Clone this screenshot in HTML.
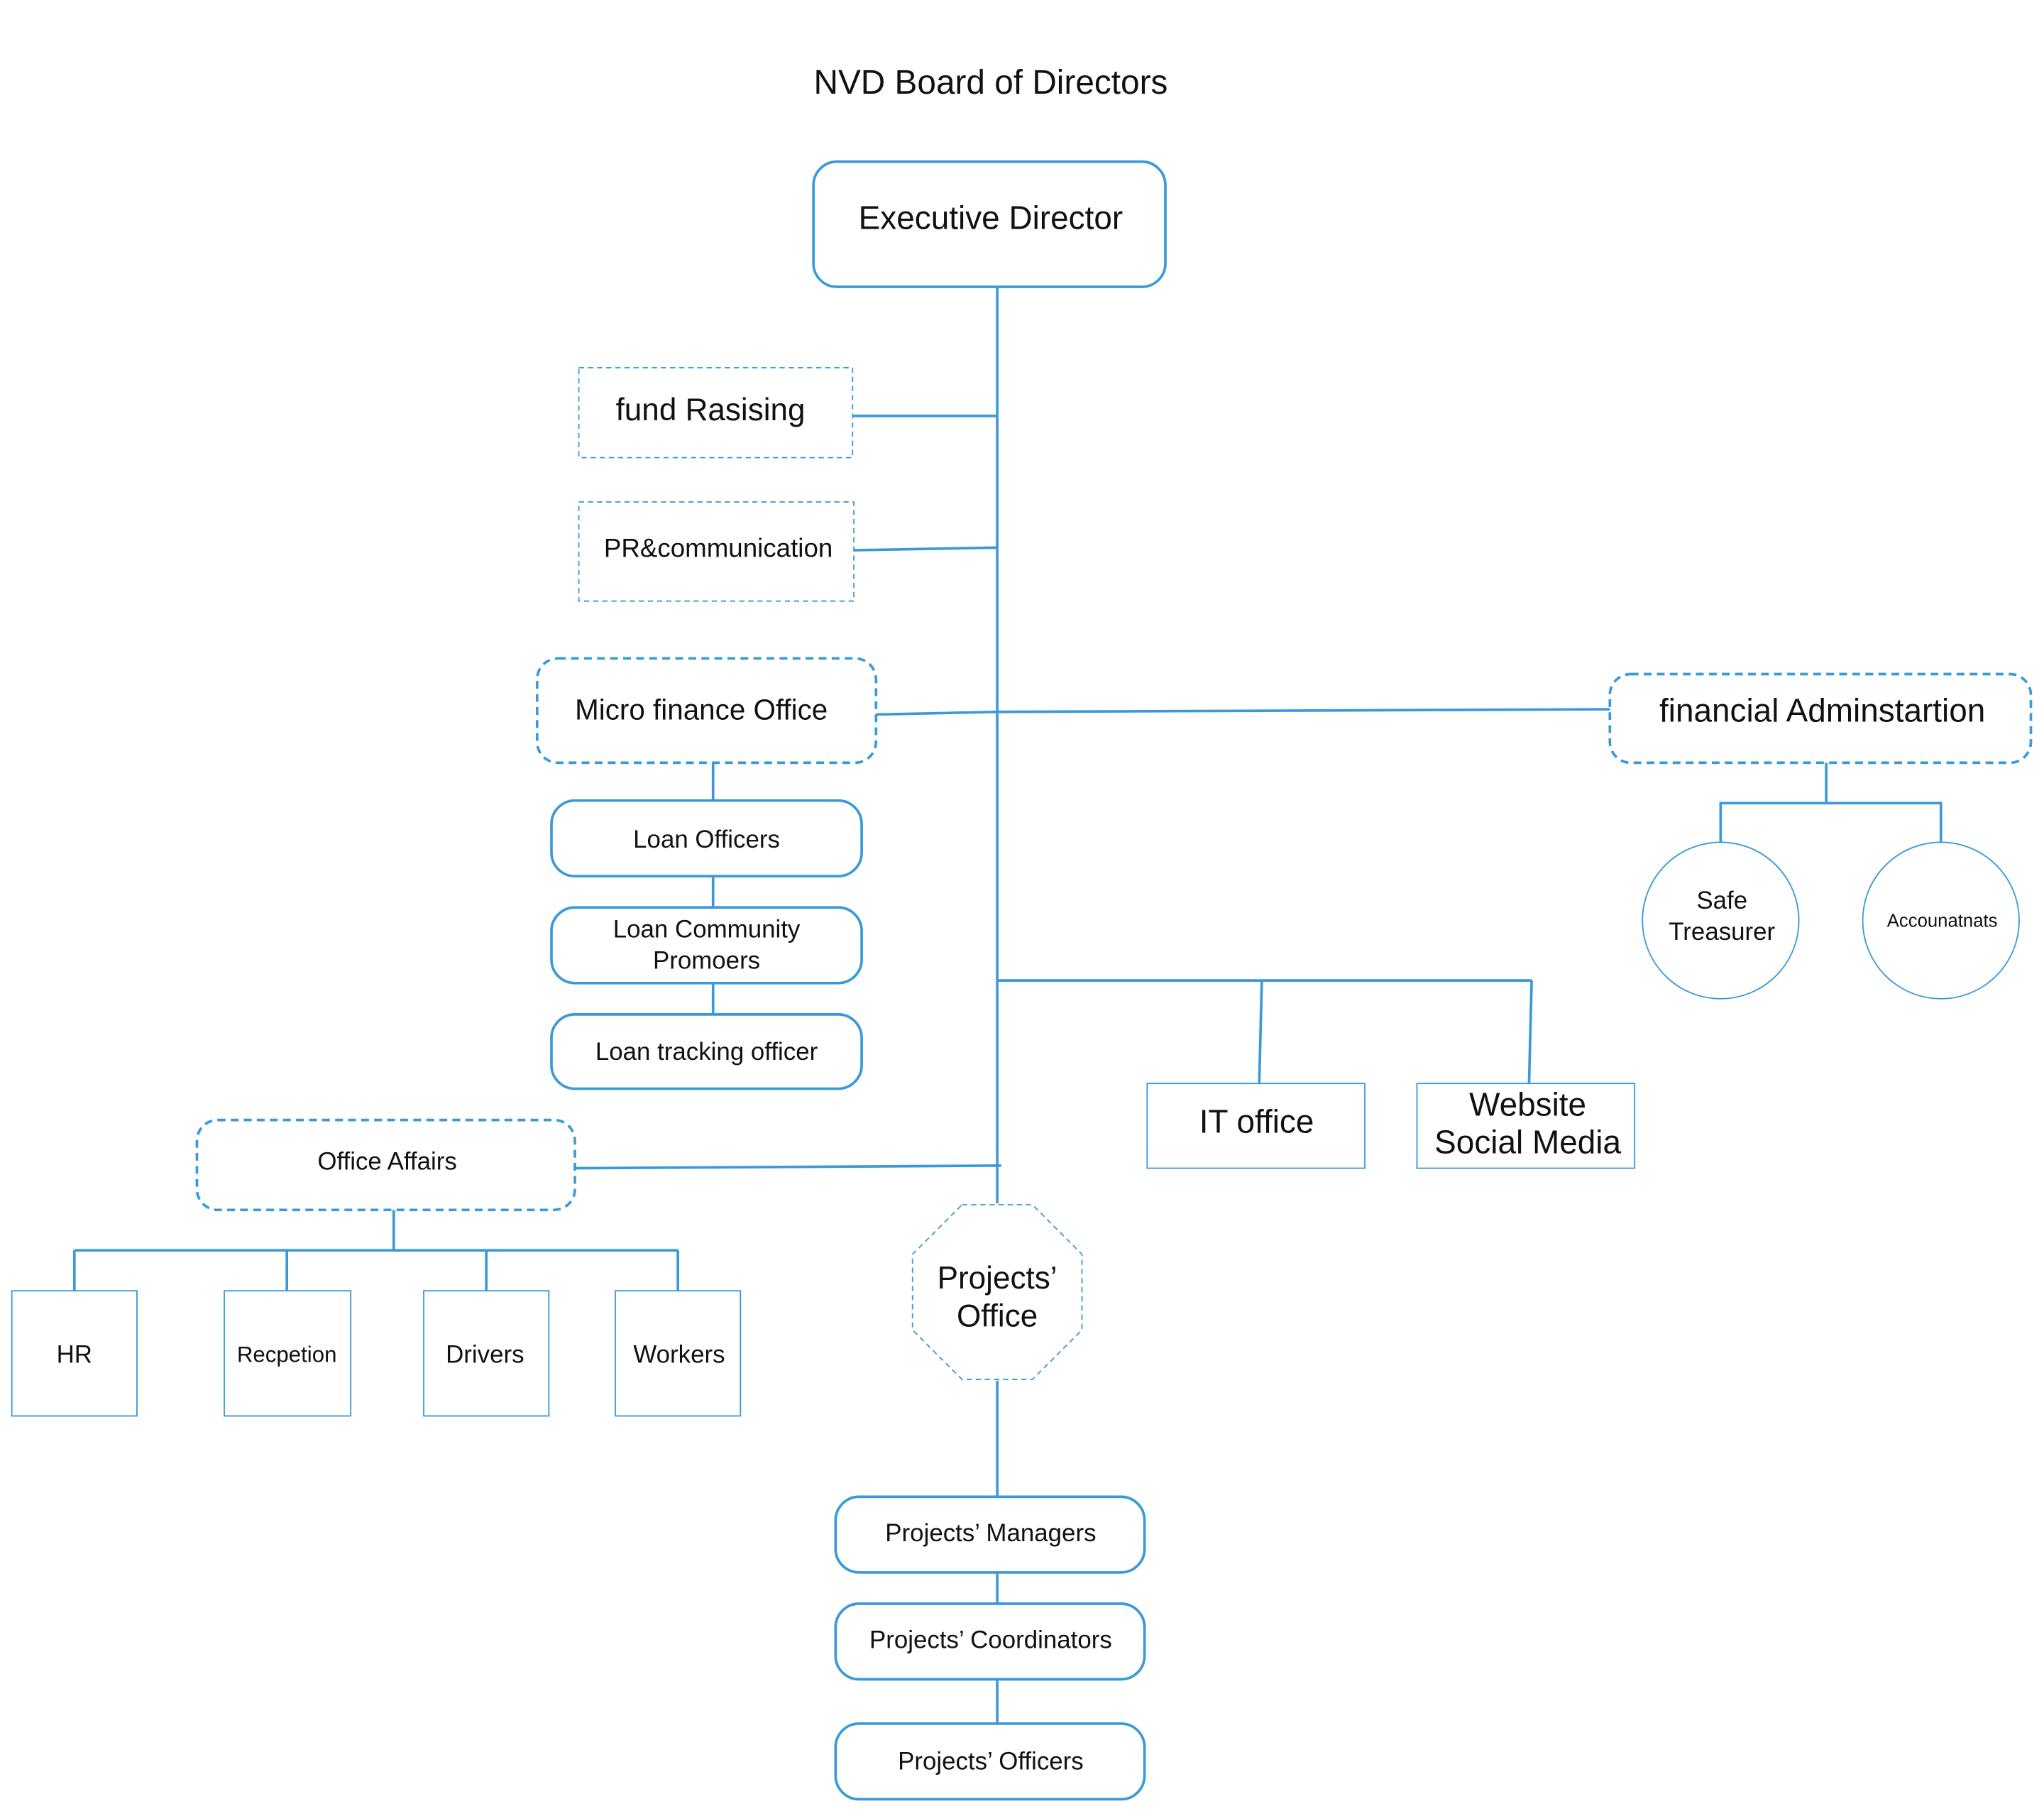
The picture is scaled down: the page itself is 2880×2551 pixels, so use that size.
<!DOCTYPE html>
<html><head><meta charset="utf-8"><style>
html,body{margin:0;padding:0;background:#fff;}
svg{display:block;}
text{font-family:"Liberation Sans",sans-serif;fill:#111;text-anchor:middle;dominant-baseline:middle;}
</style></head><body>
<svg width="2880" height="2551" viewBox="0 0 1568 1389" xmlns="http://www.w3.org/2000/svg">
<g fill="none" stroke="#3a9ad9" stroke-width="2">
<!-- main lines -->
<line x1="765" y1="220" x2="765" y2="923"/>
<line x1="654" y1="319" x2="765" y2="319"/>
<line x1="655" y1="422" x2="765" y2="420"/>
<line x1="672" y1="548" x2="765" y2="546"/>
<line x1="765" y1="546" x2="1235" y2="544"/>
<line x1="1401" y1="585" x2="1401" y2="616"/>
<polyline points="1320,646 1320,616 1489,616 1489,646"/>
<line x1="547" y1="585" x2="547" y2="614"/>
<line x1="547" y1="672" x2="547" y2="696"/>
<line x1="547" y1="754" x2="547" y2="778"/>
<line x1="765" y1="752" x2="1175" y2="752"/>
<line x1="968" y1="752" x2="966" y2="831"/>
<line x1="1175" y1="752" x2="1173" y2="831"/>
<line x1="441" y1="896" x2="768" y2="894"/>
<line x1="302" y1="928" x2="302" y2="959"/>
<line x1="57" y1="959" x2="520" y2="959"/>
<line x1="57" y1="959" x2="57" y2="990"/>
<line x1="220" y1="959" x2="220" y2="990"/>
<line x1="373" y1="959" x2="373" y2="990"/>
<line x1="520" y1="959" x2="520" y2="990"/>
<line x1="765" y1="1059" x2="765" y2="1148"/>
<line x1="765" y1="1206" x2="765" y2="1230"/>
<line x1="765" y1="1288" x2="765" y2="1322"/>
<!-- solid rounded boxes -->
<rect x="624" y="124" width="270" height="96" rx="18"/>
<rect x="423" y="614" width="238" height="58" rx="18"/>
<rect x="423" y="696" width="238" height="58" rx="18"/>
<rect x="423" y="778" width="238" height="57" rx="18"/>
<rect x="641" y="1148" width="237" height="58" rx="18"/>
<rect x="641" y="1230" width="237" height="58" rx="18"/>
<rect x="641" y="1322" width="237" height="58" rx="18"/>
<!-- dashed rounded -->
<g stroke-dasharray="6,4">
<rect x="412" y="505" width="260" height="80" rx="16"/>
<rect x="1235" y="517" width="323" height="68" rx="16"/>
<rect x="151" y="859" width="290" height="69" rx="16"/>
</g>
</g>
<g fill="none" stroke="#3a9ad9" stroke-width="1">
<g stroke-dasharray="4,3">
<rect x="444" y="282" width="210" height="69"/>
<rect x="444" y="385" width="211" height="76"/>
<polygon points="738,924 792,924 830,962 830,1020 792,1058 738,1058 700,1020 700,962"/>
</g>
<circle cx="1320" cy="706" r="60"/>
<circle cx="1489" cy="706" r="60"/>
<rect x="880" y="831" width="167" height="65"/>
<rect x="1087" y="831" width="167" height="65"/>
<rect x="9" y="990" width="96" height="96"/>
<rect x="172" y="990" width="97" height="96"/>
<rect x="325" y="990" width="96" height="96"/>
<rect x="472" y="990" width="96" height="96"/>
</g>
<text x="760" y="65" font-size="26">NVD Board of Directors</text>
<text x="760" y="169" font-size="25">Executive Director</text>
<text x="545" y="316" font-size="24">fund Rasising</text>
<text x="551" y="422" font-size="20">PR&amp;communication</text>
<text x="538" y="546" font-size="22">Micro finance Office</text>
<text x="1398" y="547" font-size="25">financial Adminstartion</text>
<text x="1321" y="692" font-size="19">Safe</text>
<text x="1321" y="716" font-size="19">Treasurer</text>
<text x="1490" y="707" font-size="14">Accounatnats</text>
<text x="542" y="645" font-size="19">Loan Officers</text>
<text x="542" y="714" font-size="19">Loan Community</text>
<text x="542" y="738" font-size="19">Promoers</text>
<text x="542" y="808" font-size="19">Loan tracking officer</text>
<text x="964" y="862" font-size="25">IT office</text>
<text x="1172" y="849" font-size="25">Website</text>
<text x="1172" y="878" font-size="25">Social Media</text>
<text x="297" y="892" font-size="19">Office Affairs</text>
<text x="765" y="982" font-size="24">Projects’</text>
<text x="765" y="1011" font-size="24">Office</text>
<text x="57" y="1040" font-size="19">HR</text>
<text x="220" y="1040" font-size="17">Recpetion</text>
<text x="372" y="1040" font-size="19">Drivers</text>
<text x="521" y="1040" font-size="19">Workers</text>
<text x="760" y="1177" font-size="19">Projects’ Managers</text>
<text x="760" y="1259" font-size="19">Projects’ Coordinators</text>
<text x="760" y="1352" font-size="19">Projects’ Officers</text>
</svg>
</body></html>
